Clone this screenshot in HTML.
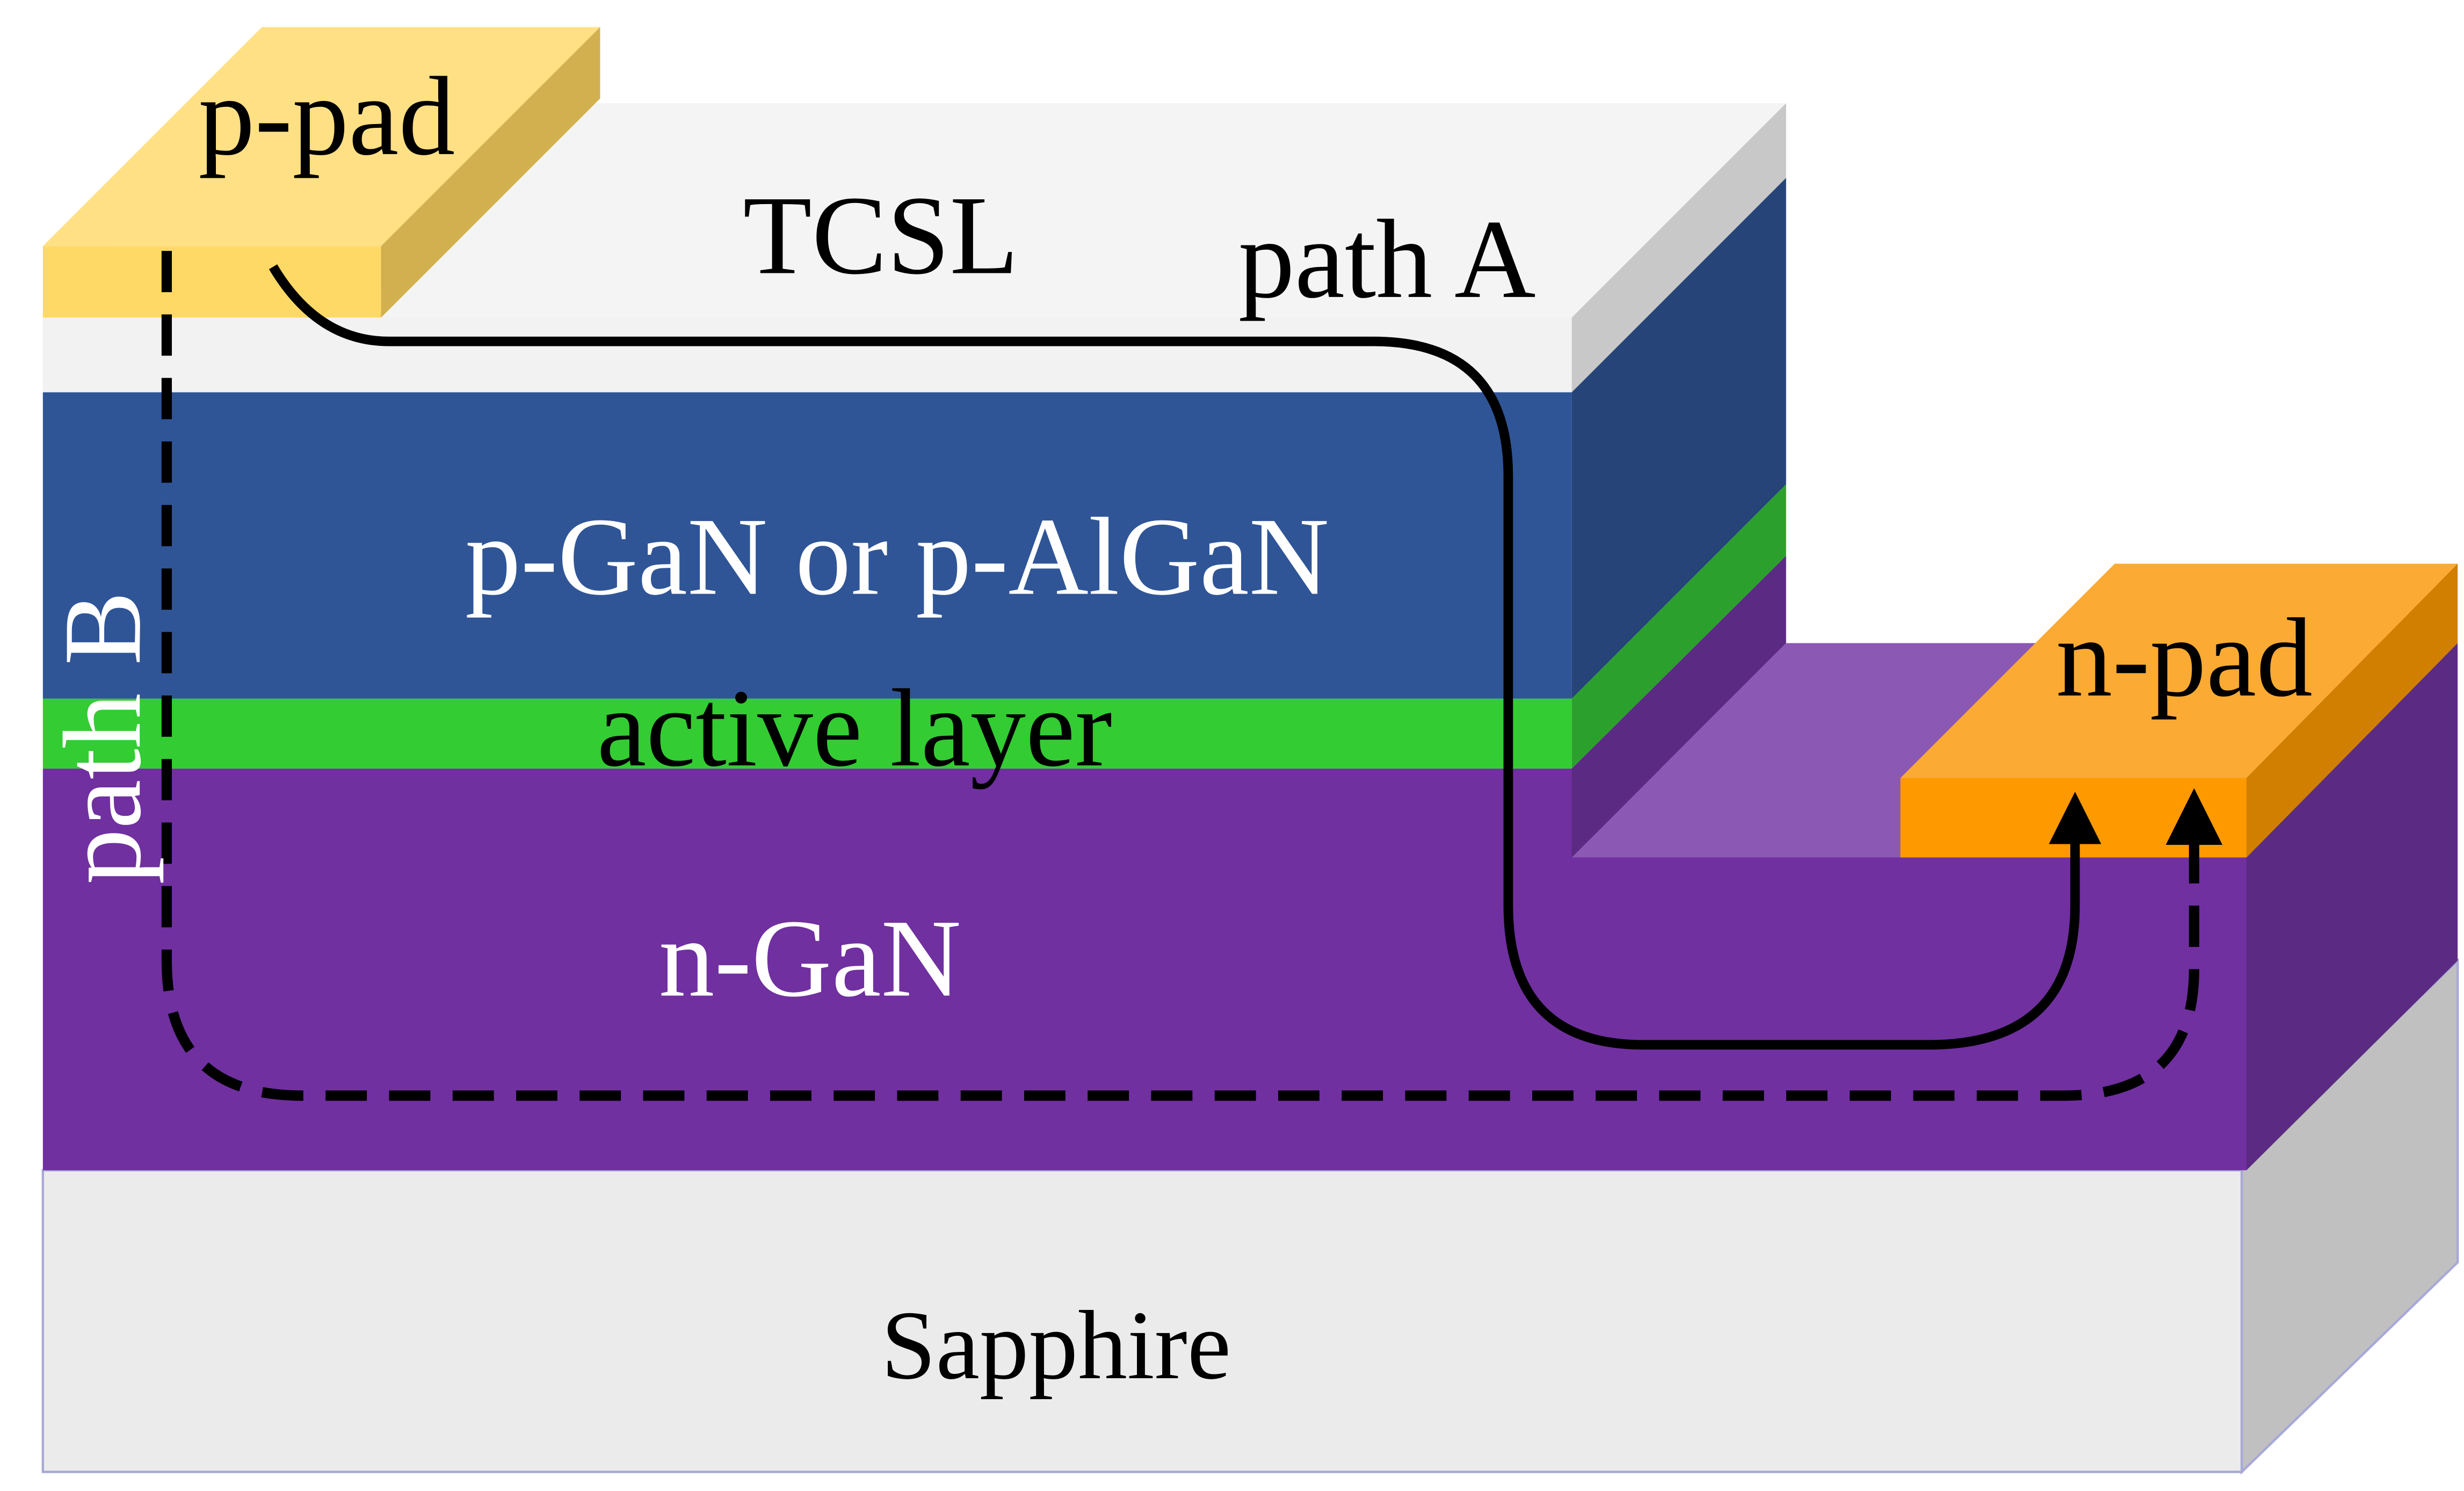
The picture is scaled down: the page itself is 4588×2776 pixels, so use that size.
<!DOCTYPE html>
<html><head><meta charset="utf-8"><style>
html,body{margin:0;padding:0;background:#fff;}
svg{display:block;}
text{font-family:"Liberation Serif",serif;}
</style></head><body>
<svg width="4588" height="2776" viewBox="0 0 1552 939" xmlns="http://www.w3.org/2000/svg">
<defs>
<marker id="ah" viewBox="0 0 10 10" refX="2" refY="5" markerWidth="5.5" markerHeight="5.5" orient="auto" markerUnits="strokeWidth">
<path d="M0,0 L10,5 L0,10 Z" fill="#000"/>
</marker>
</defs>
<!-- Sapphire -->
<rect x="27" y="737" width="1385" height="190" fill="#ebebeb" stroke="#a8a8d8" stroke-width="1.5"/>
<polygon points="1412,737 1548,605 1548,795 1412,927" fill="#c0c0c0" stroke="#a8a8d8" stroke-width="1.5"/>
<!-- n-GaN -->
<rect x="27" y="484" width="1388" height="253" fill="#7030a0"/>
<polygon points="1415,540 1548,405 1548,605 1415,737" fill="#5b2a82"/>
<polygon points="990,540 1125,405 1548,405 1415,540" fill="#8b58b3"/>
<polygon points="990,484 1125,350 1125,405 990,540" fill="#5b2a82"/>
<!-- active -->
<rect x="27" y="440" width="963" height="44" fill="#33cc33"/>
<polygon points="990,440 1125,305 1125,350 990,484" fill="#2ca02c"/>
<!-- p-GaN -->
<rect x="27" y="247" width="963" height="193" fill="#2f5597"/>
<polygon points="990,247 1125,112 1125,305 990,440" fill="#264478"/>
<!-- TCSL -->
<polygon points="27,200 165,65 1125,65 990,200" fill="#f4f4f4"/>
<rect x="27" y="200" width="963" height="47" fill="#f2f2f2"/>
<polygon points="990,200 1125,65 1125,112 990,247" fill="#c8c8c8"/>
<!-- p-pad -->
<polygon points="27,155 165,17 378,17 240,155" fill="#ffe084"/>
<rect x="27" y="155" width="213" height="45" fill="#ffd966"/>
<polygon points="240,155 378,17 378,62 240,200" fill="#d2b050"/>
<!-- n-pad -->
<polygon points="1197,490 1332,355 1548,355 1415,490" fill="#fbab33"/>
<rect x="1197" y="490" width="218" height="50" fill="#ff9900"/>
<polygon points="1415,490 1548,355 1548,405 1415,540" fill="#d07f00"/>
<!-- paths -->
<path d="M172,168 Q200,215 245,215 L865,215 Q950,215 950,300 L950,570 Q950,658 1035,658 L1215,658 Q1307,658 1307,570 L1307,525" fill="none" stroke="#000" stroke-width="6" marker-end="url(#ah)"/>
<path d="M105,158 L105,605 Q105,690 190,690 L1300,690 Q1382,690 1382,610 L1382,525" fill="none" stroke="#000" stroke-width="6.5" stroke-dasharray="26,14" marker-end="url(#ah)"/>
<!-- text -->
<text x="125" y="97" font-size="71">p-pad</text>
<text x="468" y="172" font-size="71">TCSL</text>
<text x="780" y="187" font-size="71">path A</text>
<text x="293" y="374" font-size="70" fill="#fff">p-GaN or p-AlGaN</text>
<text x="376" y="482" font-size="70">active layer</text>
<text x="415" y="627" font-size="70" fill="#fff">n-GaN</text>
<text x="555" y="868" font-size="62">Sapphire</text>
<text x="1295" y="438" font-size="71">n-pad</text>
<text transform="translate(88,557) rotate(-90)" font-size="70" fill="#fff">path B</text>
</svg>
</body></html>
